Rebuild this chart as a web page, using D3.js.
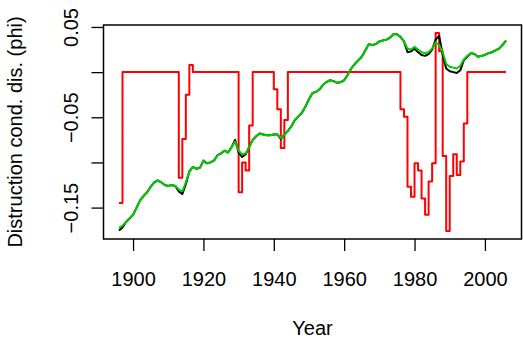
<!DOCTYPE html>
<html>
<head>
<meta charset="utf-8">
<script src="https://cdn.jsdelivr.net/npm/d3@7"></script>
<style>
  html, body { margin: 0; padding: 0; background: #fff; }
  svg { display: block; font-family: "Liberation Sans", Arial, Helvetica, sans-serif; }
</style>
</head>
<body>
<svg id="chart" width="523" height="339"></svg>
<script>
// Annual series, 1896–2006
const years = d3.range(1896, 2007);

const blackSeries = [
  -0.1754, -0.172, -0.166, -0.162, -0.158, -0.150, -0.142, -0.137, -0.133, -0.127,
  -0.122, -0.120, -0.122, -0.125, -0.126, -0.125, -0.126, -0.132, -0.135, -0.124,
  -0.110, -0.105, -0.107, -0.106, -0.098, -0.101, -0.100, -0.098, -0.092, -0.090,
  -0.087, -0.089, -0.083, -0.075, -0.089, -0.094, -0.091, -0.083, -0.075, -0.071,
  -0.068, -0.069, -0.070, -0.070, -0.069, -0.069, -0.074, -0.069, -0.065, -0.060,
  -0.053, -0.049, -0.045, -0.038, -0.030, -0.023, -0.022, -0.019, -0.014, -0.011,
  -0.009, -0.010, -0.012, -0.011, -0.009, -0.003, 0.004, 0.009, 0.013, 0.017,
  0.024, 0.031, 0.030, 0.031, 0.034, 0.035, 0.036, 0.038, 0.042, 0.042,
  0.039, 0.034, 0.022, 0.023, 0.026, 0.022, 0.019, 0.018, 0.020, 0.025,
  0.036, 0.040, 0.019, 0.004, 0.001, 0.000, -0.001, 0.002, 0.013, 0.017,
  0.021, 0.020, 0.017, 0.018, 0.019, 0.021, 0.022, 0.024, 0.026, 0.030,
  0.035
];

const greenSeries = [
  -0.1725, -0.170, -0.166, -0.162, -0.158, -0.150, -0.142, -0.137, -0.133, -0.127,
  -0.122, -0.120, -0.122, -0.125, -0.126, -0.125, -0.126, -0.130, -0.132, -0.122,
  -0.110, -0.105, -0.107, -0.106, -0.098, -0.101, -0.100, -0.098, -0.092, -0.090,
  -0.087, -0.089, -0.083, -0.077, -0.087, -0.091, -0.090, -0.083, -0.075, -0.071,
  -0.068, -0.069, -0.070, -0.070, -0.069, -0.069, -0.073, -0.069, -0.065, -0.060,
  -0.053, -0.049, -0.045, -0.038, -0.030, -0.023, -0.022, -0.019, -0.014, -0.011,
  -0.009, -0.010, -0.012, -0.011, -0.009, -0.003, 0.004, 0.009, 0.013, 0.017,
  0.024, 0.031, 0.030, 0.031, 0.034, 0.035, 0.036, 0.038, 0.042, 0.042,
  0.039, 0.034, 0.026, 0.025, 0.028, 0.025, 0.022, 0.021, 0.022, 0.026,
  0.033, 0.030, 0.022, 0.009, 0.006, 0.005, 0.004, 0.007, 0.014, 0.018,
  0.021, 0.020, 0.017, 0.018, 0.019, 0.021, 0.022, 0.024, 0.026, 0.030,
  0.035
];

// Step series: value holds from each year until the next listed year
const stepYears = [
  1896, 1897, 1913, 1914, 1915, 1916, 1917, 1930, 1931, 1932, 1933, 1934,
  1940, 1941, 1942, 1943, 1944, 1976, 1977, 1978, 1979, 1980, 1981, 1982,
  1983, 1984, 1985, 1986, 1987, 1988, 1989, 1990, 1991, 1992, 1993, 1994,
  1995, 2006
];
const stepValues = [
  -0.145, 0, -0.117, -0.074, -0.025, 0.008, 0, -0.133, -0.100, -0.109, -0.059, 0,
  -0.019, -0.041, -0.084, -0.053, 0, -0.041, -0.0495, -0.127, -0.138, -0.101, -0.109, -0.140,
  -0.158, -0.121, -0.101, 0.0434, 0.023, -0.093, -0.176, -0.115, -0.091, -0.114, -0.099, -0.057,
  0, 0
];

const xTicks = [1900, 1920, 1940, 1960, 1980, 2000];
const yTicks = [0.05, 0, -0.05, -0.10, -0.15];
const yTickLabels = ["0.05", "", "\u22120.05", "", "\u22120.15"];

const xTitle = "Year";
const yTitle = "Distruction cond. dis. (phi)";

// Layout
const W = 523, H = 339;
const plot = { left: 103.5, right: 521.5, top: 25, bottom: 239 };

// Extent padded by 4% on each side
function padded(ext) {
  const d = (ext[1] - ext[0]) * 0.04;
  return [ext[0] - d, ext[1] + d];
}
const xExt = d3.extent(years.concat(stepYears));
const yExt = d3.extent(blackSeries.concat(greenSeries, stepValues));

const x = d3.scaleLinear().domain(padded(xExt)).range([plot.left, plot.right]);
const y = d3.scaleLinear().domain(padded(yExt)).range([plot.bottom, plot.top]);

const svg = d3.select("#chart");
const fontSize = 20;

// Lines
const clip = svg.append("clipPath").attr("id", "plotclip")
  .append("rect")
  .attr("x", plot.left).attr("y", plot.top)
  .attr("width", plot.right - plot.left).attr("height", plot.bottom - plot.top);

const g = svg.append("g").attr("clip-path", "url(#plotclip)");

const stepLine = d3.line()
  .x((d, i) => x(stepYears[i]))
  .y(d => y(d))
  .curve(d3.curveStepAfter);

const annualLine = d3.line()
  .x((d, i) => x(years[i]))
  .y(d => y(d));

g.append("path")
  .attr("d", stepLine(stepValues))
  .attr("fill", "none").attr("stroke", "#ff0000").attr("stroke-width", 2)
  .attr("stroke-linejoin", "round");

g.append("path")
  .attr("d", annualLine(blackSeries))
  .attr("fill", "none").attr("stroke", "#000000").attr("stroke-width", 2)
  .attr("stroke-linejoin", "round");

g.append("path")
  .attr("d", annualLine(greenSeries))
  .attr("fill", "none").attr("stroke", "#00cd00").attr("stroke-width", 2)
  .attr("stroke-linejoin", "round");

// Box
svg.append("rect")
  .attr("x", plot.left).attr("y", plot.top)
  .attr("width", plot.right - plot.left).attr("height", plot.bottom - plot.top)
  .attr("fill", "none").attr("stroke", "#000").attr("stroke-width", 1.5);

// X axis
const xAxis = svg.append("g")
  .attr("transform", `translate(0,${plot.bottom})`)
  .call(d3.axisBottom(x).tickValues(xTicks).tickFormat(d3.format("d")).tickSize(12));
xAxis.select(".domain").remove();
xAxis.selectAll("line").attr("stroke", "#000").attr("stroke-width", 1.3);
xAxis.selectAll("text")
  .attr("y", 47).attr("dy", null)
  .attr("fill", "#000")
  .style("font-size", fontSize + "px")
  .style("font-family", "'Liberation Sans', Arial, sans-serif");

// Y axis
const yAxis = svg.append("g")
  .attr("transform", `translate(${plot.left},0)`)
  .call(d3.axisLeft(y).tickValues(yTicks).tickFormat((d, i) => yTickLabels[i]).tickSize(12));
yAxis.select(".domain").remove();
yAxis.selectAll("line").attr("stroke", "#000").attr("stroke-width", 1.3);
yAxis.selectAll("text")
  .attr("x", 0).attr("y", -25.5).attr("dy", null)
  .attr("transform", "rotate(-90)")
  .attr("text-anchor", "middle")
  .attr("fill", "#000")
  .style("font-size", fontSize + "px")
  .style("font-family", "'Liberation Sans', Arial, sans-serif");

// Axis titles
svg.append("text")
  .attr("x", (plot.left + plot.right) / 2).attr("y", 335)
  .attr("text-anchor", "middle")
  .style("font-size", fontSize + "px")
  .text(xTitle);

svg.append("text")
  .attr("transform", `translate(22,${(plot.top + plot.bottom) / 2}) rotate(-90)`)
  .attr("text-anchor", "middle")
  .style("font-size", fontSize + "px")
  .text(yTitle);
</script>
</body>
</html>
